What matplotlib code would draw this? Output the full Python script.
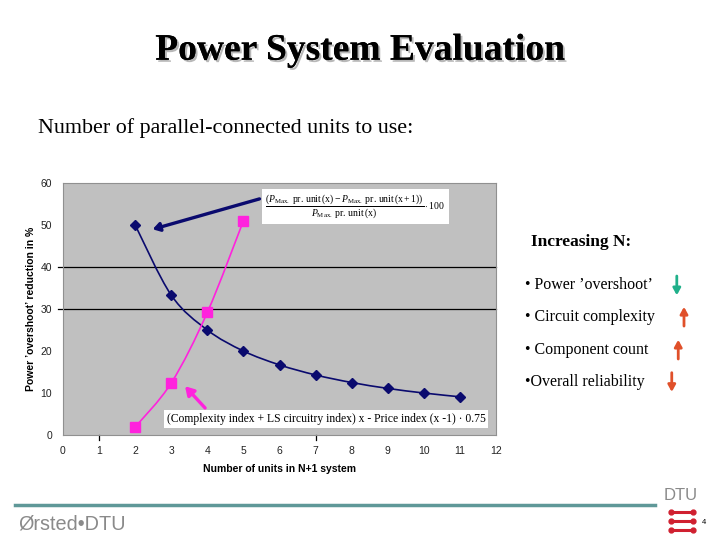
import matplotlib
matplotlib.use("Agg")
import matplotlib.pyplot as plt
import matplotlib.patheffects as pe
from matplotlib.path import Path
from matplotlib.patches import PathPatch, FancyArrowPatch

plt.rcParams['mathtext.fontset'] = 'custom'
plt.rcParams['mathtext.rm'] = 'Liberation Serif'
plt.rcParams['mathtext.it'] = 'Liberation Serif:italic'

# values
units_overshoot = [2, 3, 4, 5, 6, 7, 8, 9, 10, 11]
overshoot_pct = [50, 33.3, 25, 20, 16.7, 14.3, 12.5, 11.1, 10, 9.1]
units_complexity = [2, 3, 4, 5]
complexity_idx = [1.9, 12.4, 29.2, 51]
xticks = list(range(0, 13))
yticks = [0, 10, 20, 30, 40, 50, 60]
bullets = ["\u2022 Power \u2019overshoot\u2019", "\u2022 Circuit complexity",
           "\u2022 Component count", "\u2022Overall reliability"]
bullet_dir = ["down", "up", "up", "down"]
bullet_col = ["#20B08A", "#E0502A", "#E0502A", "#E0502A"]

SERIF = "Liberation Serif"
SANS = "Liberation Sans"


def smooth_path(xs, ys):
    # Catmull-Rom style bezier through the points (like Excel's smoothed line)
    pts = list(zip(xs, ys))
    verts = [pts[0]]
    codes = [Path.MOVETO]
    for i in range(len(pts) - 1):
        p0 = pts[i - 1] if i > 0 else pts[i]
        p1 = pts[i]
        p2 = pts[i + 1]
        p3 = pts[i + 2] if i + 2 < len(pts) else pts[i + 1]
        c1 = (p1[0] + (p2[0] - p0[0]) / 6, p1[1] + (p2[1] - p0[1]) / 6)
        c2 = (p2[0] - (p3[0] - p1[0]) / 6, p2[1] - (p3[1] - p1[1]) / 6)
        verts += [c1, c2, p2]
        codes += [Path.CURVE4] * 3
    return Path(verts, codes)


fig = plt.figure(figsize=(7.2, 5.4), dpi=100)
fig.patch.set_facecolor("white")

# title with drop shadow
fig.text(0.5, 0.907, "Power System Evaluation", ha="center", va="center",
         family=SERIF, weight="bold", fontsize=27,
         path_effects=[pe.withSimplePatchShadow(offset=(1.5, -1.5), shadow_rgbFace="#b8b8b8", alpha=1),
                       pe.Normal()])
fig.text(0.053, 0.763, "Number of parallel-connected units to use:", ha="left", va="center",
         family=SERIF, fontsize=15.8)

ax = fig.add_axes([0.0875, 0.1944, 0.6014, 0.4667])
ax.set_facecolor("#C0C0C0")
ax.set_xlim(0, 12)
ax.set_ylim(0, 60)
ax.set_xticks(xticks)
ax.set_yticks(yticks)
ax.tick_params(length=0, labelsize=7.5, labelcolor="#222222", pad=8)
for lab in ax.get_xticklabels() + ax.get_yticklabels():
    lab.set_family(SANS)
for s in ax.spines.values():
    s.set_color("#909090")
    s.set_linewidth(0.8)

# the two visible horizontal grid lines (stick out left like ticks)
for yv in [30, 40]:
    ax.plot([-0.15, 12], [yv, yv], color="black", lw=0.9, clip_on=False, zorder=1)
# the two visible x tick marks
for xv in [1, 7]:
    ax.plot([xv, xv], [0, -1.2], color="black", lw=0.9, clip_on=False, zorder=1)

ax.add_patch(PathPatch(smooth_path(units_overshoot, overshoot_pct), fill=False,
                       edgecolor="#0A0A6E", lw=1.2, zorder=3))
ax.plot(units_overshoot, overshoot_pct, ls="none", marker="D", ms=5.5,
        color="#0A0A6E", zorder=4)
ax.add_patch(PathPatch(smooth_path(units_complexity, complexity_idx), fill=False,
                       edgecolor="#FF22DD", lw=1.2, zorder=3))
ax.plot(units_complexity, complexity_idx, ls="none", marker="s", ms=6.5,
        color="#FF22DD", zorder=4)

ax.set_xlabel("Number of units in N+1 system", family=SANS, weight="bold",
              fontsize=7.5, labelpad=6)
ax.set_ylabel("Power \u2019overshoot\u2019 reduction in %", family=SANS, weight="bold",
              fontsize=7.5, labelpad=3)

# formula boxes
ax.text(8.1, 54.4,
        r"$\dfrac{\left(P_{\mathrm{Max.}}\ \mathrm{pr.\,unit\,(x) - }P_{\mathrm{Max.}}\ \mathrm{pr.\,unit\,(x+1)}\right)}"
        r"{P_{\mathrm{Max.}}\ \mathrm{pr.\,unit\,(x)}}\cdot 100$",
        ha="center", va="center", fontsize=7.0, zorder=5,
        bbox=dict(boxstyle="square,pad=0.35", fc="white", ec="none"))
ax.text(7.29, 3.8, "(Complexity index + LS circuitry index) x - Price index (x -1) \u00b7 0.75",
        ha="center", va="center", family=SERIF, fontsize=8.4, zorder=5,
        bbox=dict(boxstyle="square,pad=0.25", fc="white", ec="none"))

# pointer arrows
ax.add_patch(FancyArrowPatch((5.52, 56.4), (2.41, 48.8), arrowstyle="-|>,head_length=4,head_width=2.5",
                             color="#0A0A6E", lw=2.4, zorder=5))
ax.add_patch(FancyArrowPatch((3.99, 5.95), (3.33, 12.1), arrowstyle="-|>,head_length=5,head_width=3",
                             color="#FF22DD", lw=2.4, zorder=5))

# right-hand list
fig.text(0.738, 0.552, "Increasing N:", family=SERIF, weight="bold", fontsize=12.5,
         ha="left", va="center")
ys = [0.472, 0.413, 0.352, 0.293]
xr = [0.94, 0.95, 0.942, 0.933]
for txt, y, d, c, xa in zip(bullets, ys, bullet_dir, bullet_col, xr):
    fig.text(0.729, y, txt, family=SERIF, fontsize=11.5, ha="left", va="center")
    y0, y1 = (y + 0.022, y - 0.024) if d == "down" else (y - 0.022, y + 0.024)
    fig.patches.append(FancyArrowPatch((xa, y0), (xa, y1), transform=fig.transFigure,
                                       arrowstyle="-|>,head_length=4,head_width=2.2",
                                       color=c, lw=2.0))

# footer
fig.add_artist(plt.Line2D([0.021, 0.91], [0.064, 0.064], color="#5F9898", lw=2.5))
fig.text(0.025, 0.029, "\u00d8rsted\u2022DTU", family=SANS,
         fontsize=14.3, color="#8A8A8A", ha="left", va="center")
fig.text(0.946, 0.082, "DTU", family=SANS, fontsize=12,
         color="#8A8A8A", ha="center", va="center")
for yy in [0.052, 0.035, 0.018]:
    fig.add_artist(plt.Line2D([0.932, 0.962], [yy, yy], color="#D02030", lw=2.2,
                              marker="o", ms=3.5, markevery=[0, 1]))
fig.text(0.978, 0.033, "4", family=SANS, fontsize=5.5, ha="center", va="center")

fig.savefig("out.png", dpi=100)
